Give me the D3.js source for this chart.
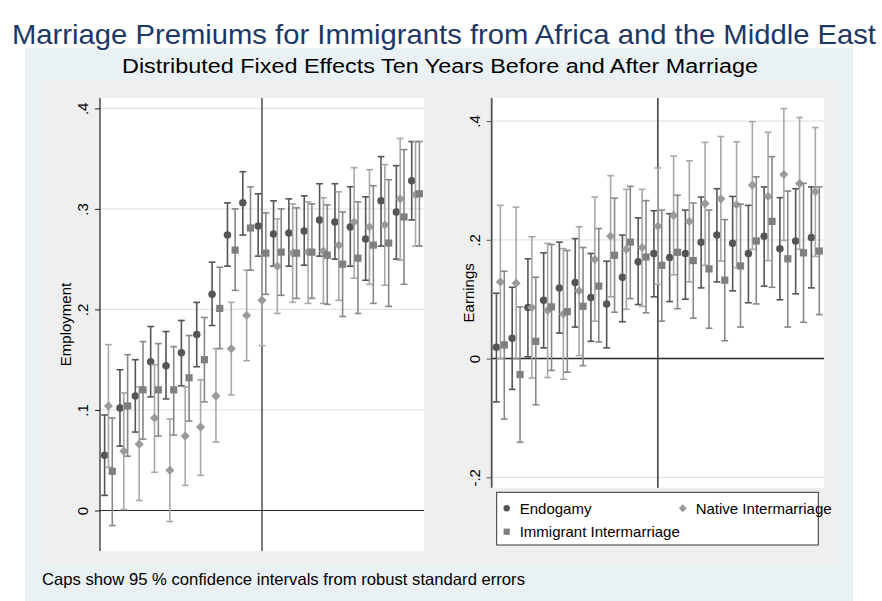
<!DOCTYPE html>
<html>
<head>
<meta charset="utf-8">
<script src="https://cdn.jsdelivr.net/npm/d3@7"></script>
<style>
  body { margin: 0; background: #fff; }
  text { font-family: "Liberation Sans", Arial, sans-serif; }
</style>
</head>
<body>
<div id="chart"></div>
<script>
// event time, years relative to marriage
var periods = [-10, -9, -8, -7, -6, -5, -4, -3, -2, -1, 0, 1, 2, 3, 4, 5, 6, 7, 8, 9, 10];

// employment: [estimate, lower, upper]
var empEndogamy = [
  [0.055, 0.015, 0.095], [0.102, 0.064, 0.140], [0.114, 0.078, 0.150], [0.148, 0.113, 0.183],
  [0.144, 0.111, 0.178], [0.157, 0.124, 0.189], [0.175, 0.143, 0.207], [0.215, 0.184, 0.247],
  [0.274, 0.243, 0.306], [0.306, 0.274, 0.337], [0.283, 0.253, 0.315], [0.275, 0.243, 0.308],
  [0.276, 0.243, 0.310], [0.278, 0.244, 0.313], [0.289, 0.253, 0.325], [0.287, 0.250, 0.325],
  [0.282, 0.243, 0.322], [0.270, 0.229, 0.312], [0.308, 0.263, 0.352], [0.297, 0.250, 0.343],
  [0.328, 0.289, 0.367]];
var empNative = [
  [0.104, 0.043, 0.165], [0.059, 0.001, 0.117], [0.066, 0.010, 0.123], [0.092, 0.038, 0.145],
  [0.040, -0.011, 0.091], [0.074, 0.025, 0.123], [0.083, 0.035, 0.130], [0.114, 0.068, 0.161],
  [0.161, 0.115, 0.207], [0.194, 0.149, 0.239], [0.209, 0.164, 0.254], [0.243, 0.196, 0.290],
  [0.256, 0.207, 0.305], [0.257, 0.206, 0.307], [0.258, 0.206, 0.311], [0.264, 0.209, 0.317],
  [0.287, 0.231, 0.341], [0.282, 0.225, 0.339], [0.284, 0.224, 0.344], [0.310, 0.249, 0.370],
  [0.314, 0.263, 0.367]];
var empImmigrant = [
  [0.039, -0.015, 0.092], [0.104, 0.054, 0.155], [0.120, 0.071, 0.168], [0.120, 0.074, 0.166],
  [0.120, 0.075, 0.163], [0.132, 0.089, 0.174], [0.150, 0.108, 0.192], [0.201, 0.161, 0.242],
  [0.259, 0.219, 0.300], [0.281, 0.239, 0.322], [0.256, 0.215, 0.296], [0.257, 0.214, 0.300],
  [0.256, 0.211, 0.301], [0.257, 0.211, 0.305], [0.254, 0.205, 0.304], [0.245, 0.193, 0.297],
  [0.251, 0.196, 0.307], [0.264, 0.206, 0.323], [0.266, 0.203, 0.329], [0.292, 0.225, 0.359],
  [0.315, 0.263, 0.367]];

// earnings: [estimate, lower, upper]
var earnEndogamy = [
  [0.019, -0.073, 0.110], [0.034, -0.052, 0.120], [0.086, 0.003, 0.168], [0.098, 0.018, 0.178],
  [0.119, 0.043, 0.196], [0.128, 0.053, 0.202], [0.103, 0.029, 0.177], [0.092, 0.018, 0.164],
  [0.137, 0.062, 0.208], [0.163, 0.091, 0.237], [0.177, 0.104, 0.249], [0.170, 0.096, 0.244],
  [0.177, 0.100, 0.250], [0.196, 0.119, 0.272], [0.208, 0.129, 0.286], [0.194, 0.114, 0.273],
  [0.177, 0.094, 0.258], [0.206, 0.122, 0.289], [0.185, 0.099, 0.271], [0.198, 0.109, 0.286],
  [0.204, 0.119, 0.289]];
var earnNative = [
  [0.129, 0.000, 0.258], [0.127, -0.001, 0.255], [0.086, -0.033, 0.205], [0.081, -0.032, 0.194],
  [0.075, -0.035, 0.185], [0.114, 0.005, 0.222], [0.167, 0.063, 0.272], [0.206, 0.104, 0.308],
  [0.184, 0.083, 0.285], [0.187, 0.088, 0.285], [0.223, 0.125, 0.321], [0.241, 0.141, 0.341],
  [0.231, 0.129, 0.333], [0.261, 0.157, 0.364], [0.269, 0.164, 0.374], [0.259, 0.153, 0.365],
  [0.292, 0.184, 0.399], [0.273, 0.165, 0.381], [0.310, 0.199, 0.421], [0.295, 0.184, 0.406],
  [0.281, 0.172, 0.389]];
var earnImmigrant = [
  [0.023, -0.102, 0.147], [-0.027, -0.141, 0.087], [0.029, -0.078, 0.137], [0.087, -0.020, 0.192],
  [0.079, -0.023, 0.182], [0.088, -0.012, 0.187], [0.122, 0.028, 0.219], [0.174, 0.078, 0.270],
  [0.196, 0.101, 0.290], [0.171, 0.077, 0.266], [0.157, 0.063, 0.250], [0.179, 0.084, 0.275],
  [0.165, 0.068, 0.262], [0.151, 0.051, 0.250], [0.132, 0.030, 0.234], [0.156, 0.053, 0.260],
  [0.198, 0.092, 0.306], [0.231, 0.120, 0.340], [0.168, 0.053, 0.282], [0.178, 0.061, 0.295],
  [0.181, 0.074, 0.289]];

var seriesNames = ["Endogamy", "Native Intermarriage", "Immigrant Intermarriage"];
var empTicks = [0, 0.1, 0.2, 0.3, 0.4];
var empTickLabels = ["0", ".1", ".2", ".3", ".4"];
var earnTicks = [-0.2, 0, 0.2, 0.4];
var earnTickLabels = ["-.2", "0", ".2", ".4"];

var width = 882, height = 601;

// square turned on its corner, like Stata's diamond
var stataDiamond = {
  draw: function(context, size) {
    var r = Math.sqrt(size / 2);
    context.moveTo(0, -r);
    context.lineTo(r, 0);
    context.lineTo(0, r);
    context.lineTo(-r, 0);
    context.closePath();
  }
};

// marker look per series
var styles = [
  { shape: d3.symbolCircle, size: 44, fill: "#555555", bar: "#555555", off: -0.25 },
  { shape: stataDiamond, size: 42, fill: "#9a9a9a", bar: "#a8a8a8", off: 0 },
  { shape: d3.symbolSquare, size: 52, fill: "#7f7f7f", bar: "#888888", off: 0.25 }
];

var svg = d3.select("#chart").append("svg")
  .attr("width", width)
  .attr("height", height);

svg.append("rect").attr("x", 25).attr("y", 48).attr("width", 828).attr("height", 553).attr("fill", "#eaf1f4");
svg.append("rect").attr("x", 40).attr("y", 82).attr("width", 800).attr("height", 483).attr("fill", "#efefef");

svg.append("text")
  .attr("x", 444).attr("y", 44)
  .attr("text-anchor", "middle")
  .attr("font-size", 28)
  .attr("textLength", 864)
  .attr("lengthAdjust", "spacingAndGlyphs")
  .attr("fill", "#1c3866")
  .text("Marriage Premiums for Immigrants from Africa and the Middle East");

svg.append("text")
  .attr("x", 440).attr("y", 73)
  .attr("text-anchor", "middle")
  .attr("font-size", 20)
  .attr("textLength", 636)
  .attr("lengthAdjust", "spacingAndGlyphs")
  .attr("fill", "#000")
  .text("Distributed Fixed Effects Ten Years Before and After Marriage");

svg.append("text")
  .attr("x", 42).attr("y", 585)
  .attr("font-size", 16.5)
  .attr("textLength", 483)
  .attr("lengthAdjust", "spacingAndGlyphs")
  .attr("fill", "#000")
  .text("Caps show 95 % confidence intervals from robust standard errors");

function panel(p) {
  var x = d3.scaleLinear().domain([-10.55, 10.55]).range([p.left, p.right]);
  var y = d3.scaleLinear().domain(p.domain).range([p.bottom, p.top]);
  var g = svg.append("g");

  g.append("rect")
    .attr("x", p.left).attr("y", p.top)
    .attr("width", p.right - p.left).attr("height", p.bottom - p.top)
    .attr("fill", "#fff");

  // grid lines
  g.selectAll("line.grid").data(p.ticks).enter().append("line")
    .attr("class", "grid")
    .attr("x1", p.left).attr("x2", p.right)
    .attr("y1", function(d) { return y(d); }).attr("y2", function(d) { return y(d); })
    .attr("stroke", "#e4e4e4").attr("stroke-width", 1.2);

  // reference lines at zero
  g.append("line")
    .attr("x1", p.left).attr("x2", p.right)
    .attr("y1", y(0)).attr("y2", y(0))
    .attr("stroke", "#2b2b2b").attr("stroke-width", p.refWidth);
  g.append("line")
    .attr("x1", x(0)).attr("x2", x(0))
    .attr("y1", p.top).attr("y2", p.bottom)
    .attr("stroke", p.refColor).attr("stroke-width", p.refWidth);

  // y axis
  var axis = d3.axisLeft(y)
    .tickValues(p.ticks)
    .tickSize(5)
    .tickPadding(6)
    .tickFormat(function(d, i) { return p.tickLabels[i]; });
  var ag = g.append("g")
    .attr("transform", "translate(" + p.left + ",0)")
    .call(axis);
  ag.select(".domain").remove();
  ag.append("line")
    .attr("x1", 0).attr("x2", 0)
    .attr("y1", p.top).attr("y2", p.bottom)
    .attr("stroke", p.axisColor).attr("stroke-width", p.axisWidth);
  ag.selectAll(".tick line").attr("stroke", p.axisColor);
  ag.selectAll(".tick text")
    .attr("font-size", 15)
    .attr("fill", "#000")
    .attr("font-family", "Liberation Sans, Arial, sans-serif")
    .attr("transform", "rotate(-90)")
    .attr("x", 0)
    .attr("y", -p.labelGap)
    .attr("dy", "0em")
    .attr("text-anchor", "middle");

  g.append("text")
    .attr("transform", "translate(" + p.titleX + "," + ((p.top + p.bottom) / 2) + ") rotate(-90)")
    .attr("text-anchor", "middle")
    .attr("font-size", 15)
    .text(p.title);

  p.series.forEach(function(s, k) {
    var st = styles[k];
    var sg = g.append("g");
    var cap = 3.4;
    sg.selectAll("line.ci").data(s).enter().append("line")
      .attr("x1", function(d, i) { return x(periods[i] + st.off); })
      .attr("x2", function(d, i) { return x(periods[i] + st.off); })
      .attr("y1", function(d) { return y(d[1]); })
      .attr("y2", function(d) { return y(d[2]); })
      .attr("stroke", st.bar).attr("stroke-width", 1.6);
    [1, 2].forEach(function(j) {
      sg.selectAll("line.cap" + j).data(s).enter().append("line")
        .attr("x1", function(d, i) { return x(periods[i] + st.off) - cap; })
        .attr("x2", function(d, i) { return x(periods[i] + st.off) + cap; })
        .attr("y1", function(d) { return y(d[j]); })
        .attr("y2", function(d) { return y(d[j]); })
        .attr("stroke", st.bar).attr("stroke-width", 1.6);
    });
    sg.selectAll("path.pt").data(s).enter().append("path")
      .attr("d", d3.symbol().type(st.shape).size(st.size))
      .attr("transform", function(d, i) {
        return "translate(" + x(periods[i] + st.off) + "," + y(d[0]) + ")";
      })
      .attr("fill", st.fill);
  });
}

panel({
  left: 100, right: 424, top: 98, bottom: 551,
  domain: [-0.0403, 0.4103],
  ticks: empTicks, tickLabels: empTickLabels,
  title: "Employment", titleX: 71, labelGap: 12,
  axisColor: "#222", axisWidth: 1.2, refColor: "#222", refWidth: 1.2,
  series: [empEndogamy, empNative, empImmigrant]
});

panel({
  left: 491.7, right: 824, top: 98, bottom: 487.7,
  domain: [-0.2175, 0.4388],
  ticks: earnTicks, tickLabels: earnTickLabels,
  title: "Earnings", titleX: 474, labelGap: 12,
  axisColor: "#555", axisWidth: 1.8, refColor: "#444", refWidth: 1.6,
  series: [earnEndogamy, earnNative, earnImmigrant]
});

// legend
var lg = svg.append("g");
lg.append("rect")
  .attr("x", 496.7).attr("y", 492.3).attr("width", 321.6).attr("height", 52.7)
  .attr("fill", "#fff").attr("stroke", "#333").attr("stroke-width", 1);
var legendPos = [[506.7, 508.3], [682.7, 508.3], [506.7, 531.7]];
seriesNames.forEach(function(name, k) {
  var st = styles[k];
  lg.append("path")
    .attr("d", d3.symbol().type(st.shape).size(st.size * 0.75))
    .attr("transform", "translate(" + legendPos[k][0] + "," + legendPos[k][1] + ")")
    .attr("fill", st.fill);
  lg.append("text")
    .attr("x", legendPos[k][0] + 13).attr("y", legendPos[k][1] + 5.3)
    .attr("font-size", 15)
    .text(name);
});
</script>
</body>
</html>
